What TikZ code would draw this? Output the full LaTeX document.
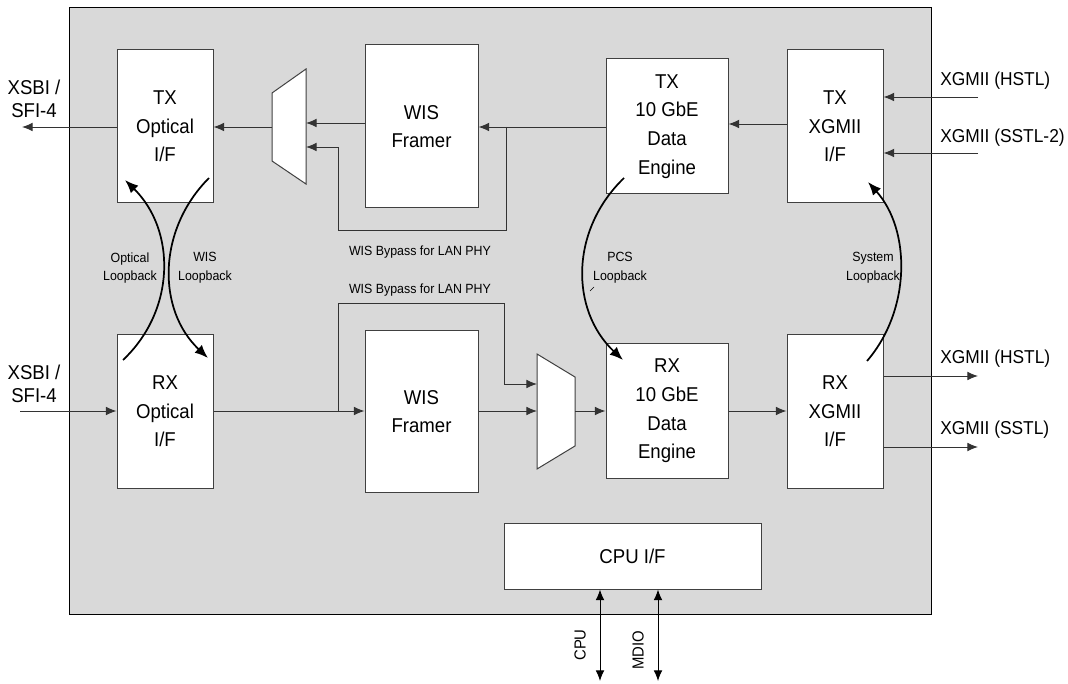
\documentclass[tikz,border=0pt]{standalone}
\usepackage{fontspec}
\setmainfont{Liberation Sans}[FakeStretch=0.93]
\usetikzlibrary{arrows.meta,fit}
\definecolor{panel}{HTML}{D9D9D9}
\definecolor{edge}{HTML}{404040}
\tikzset{
  blk/.style={draw=edge, line width=0.75pt, fill=white, inner sep=0pt, align=center,
    font=\fontsize{15}{21.5}\selectfont},
  sig/.style={draw=black!80, line width=0.7pt, -{Latex[length=8pt,width=6.5pt]}},
  bisig/.style={draw=black, line width=0.7pt, {Latex[length=8pt,width=6.5pt]}-{Latex[length=8pt,width=6.5pt]}},
  loopb/.style={draw=black, line width=1.3pt, -{Latex[length=10pt,width=8pt]}},
  biglbl/.style={inner sep=0pt, align=center, font=\fontsize{15}{21.5}\selectfont},
  sidelbl/.style={inner sep=0pt, anchor=west, font=\fontsize{14}{16}\selectfont},
  smalllbl/.style={inner sep=0pt, align=center, font=\fontsize{10}{14}\selectfont},
  muxshape/.style={draw=edge, line width=0.75pt, fill=white},
}
\begin{document}
\begin{tikzpicture}[x=0.75pt,y=-0.75pt]
\useasboundingbox (0,0) rectangle (1068,684);
% panel
\draw[draw=black, line width=0.75pt, fill=panel] (69,8) rectangle (931,614);
% blocks
\node[blk, fit={(117,50)(213,203)}] (txo) {};
\node[biglbl] at (txo.center) {TX\\Optical\\I/F};
\node[blk, fit={(365,45)(478,208)}] (txw) {};
\node[biglbl] at (txw.center) {WIS\\Framer};
\node[blk, fit={(606,59)(728,194)}] (txe) {};
\node[biglbl] at (txe.center) {TX\\10 GbE\\Data\\Engine};
\node[blk, fit={(787,50)(883,203)}] (txx) {};
\node[biglbl] at (txx.center) {TX\\XGMII\\I/F};
\node[blk, fit={(117,335)(213,488)}] (rxo) {};
\node[biglbl] at (rxo.center) {RX\\Optical\\I/F};
\node[blk, fit={(365,331)(478,492)}] (rxw) {};
\node[biglbl] at (rxw.center) {WIS\\Framer};
\node[blk, fit={(606,344)(728,478)}] (rxe) {};
\node[biglbl] at (rxe.center) {RX\\10 GbE\\Data\\Engine};
\node[blk, fit={(787,335)(883,488)}] (rxx) {};
\node[biglbl] at (rxx.center) {RX\\XGMII\\I/F};
\node[blk, fit={(504,523)(761,589)}] (cpu) {};
\node[biglbl] at (cpu.center) {CPU I/F};
% muxes
\draw[muxshape] (272,93) -- (306,69) -- (306,184) -- (272,161) -- cycle;
\coordinate (tmo) at (272,127);
\coordinate (tmi1) at (306,123);
\coordinate (tmi2) at (306,147);
\draw[muxshape] (537,354) -- (575,377) -- (575,446) -- (537,469) -- cycle;
\coordinate (bmo) at (575,411);
\coordinate (bmi1) at (537,384);
\coordinate (bmi2) at (537,411);
% external ends
\coordinate (txout) at (22,127);
\coordinate (rxin) at (20,411);
\coordinate (hin) at (978,97);
\coordinate (sin) at (978,153);
\coordinate (hout) at (978,376);
\coordinate (sout) at (978,447);
\coordinate (cpuend) at (600,681);
\coordinate (mdioend) at (658,681);
% TX path
\draw[sig] (txx.west |- 0,124) -- (txe.east |- 0,124);
\draw[sig] (txe.west |- 0,127) -- (txw.east |- 0,127);
\draw[sig] (txw.west |- 0,123) -- (tmi1);
\draw[sig] (506,127) -- (506,230) -- (338,230) -- (338,147) -- (tmi2);
\draw[sig] (tmo) -- (txo.east |- tmo);
\draw[sig] (txo.west |- txout) -- (txout);
\draw[sig] (hin) -- (txx.east |- hin);
\draw[sig] (sin) -- (txx.east |- sin);
% RX path
\draw[sig] (rxin) -- (rxo.west |- rxin);
\draw[sig] (rxo.east |- 0,411) -- (rxw.west |- 0,411);
\draw[sig] (338,411) -- (338,303) -- (504,303) -- (504,384) -- (bmi1);
\draw[sig] (rxw.east |- bmi2) -- (bmi2);
\draw[sig] (bmo) -- (rxe.west |- bmo);
\draw[sig] (rxe.east |- 0,411) -- (rxx.west |- 0,411);
\draw[sig] (rxx.east |- hout) -- (hout);
\draw[sig] (rxx.east |- sout) -- (sout);
% CPU
\draw[bisig] (cpu.south -| cpuend) -- (cpuend);
\draw[bisig] (cpu.south -| mdioend) -- (mdioend);
% loopbacks
\coordinate (ol1) at (123,360); \coordinate (ol2) at (125,180);
\coordinate (wl1) at (209,178); \coordinate (wl2) at (208,358);
\coordinate (pl1) at (624,178); \coordinate (pl2) at (623,360);
\coordinate (sl1) at (867,361); \coordinate (sl2) at (868,182);
\draw[loopb] (ol1) .. controls (176,310) and (176,230) .. (ol2);
\draw[loopb] (wl1) .. controls (157,230) and (157,310) .. (wl2);
\draw[loopb] (pl1) .. controls (570,230) and (570,310) .. (pl2);
\draw[loopb] (sl1) .. controls (911,310) and (911,230) .. (sl2);
\draw[draw=black, line width=0.5pt] (590,291) -- (594,287);
% labels
\node[biglbl, font=\fontsize{15}{17}\selectfont] (l1) at (34,99) {XSBI /\\SFI-4};
\node[biglbl, font=\fontsize{15}{17}\selectfont] (l2) at (34,384) {XSBI /\\SFI-4};
\node[sidelbl] (l3) at (940,81) {XGMII (HSTL)};
\node[sidelbl] (l4) at (940,138) {XGMII (SSTL-2)};
\node[sidelbl] (l5) at (940,359) {XGMII (HSTL)};
\node[sidelbl] (l6) at (940,430) {XGMII (SSTL)};
\node[smalllbl] (l7) at (420,252) {WIS Bypass for LAN PHY};
\node[smalllbl] (l8) at (420,290) {WIS Bypass for LAN PHY};
\node[smalllbl] (l9) at (130,268) {Optical\\Loopback};
\node[smalllbl] (l10) at (205,268) {WIS\\Loopback};
\node[smalllbl] (l11) at (620,268) {PCS\\Loopback};
\node[smalllbl] (l12) at (873,268) {System\\Loopback};
\node[inner sep=0pt, rotate=90, font=\fontsize{12}{14}\selectfont] (l13) at (580,645) {CPU};
\node[inner sep=0pt, rotate=90, font=\fontsize{12}{14}\selectfont] (l14) at (638,650) {MDIO};
\end{tikzpicture}
\end{document}
